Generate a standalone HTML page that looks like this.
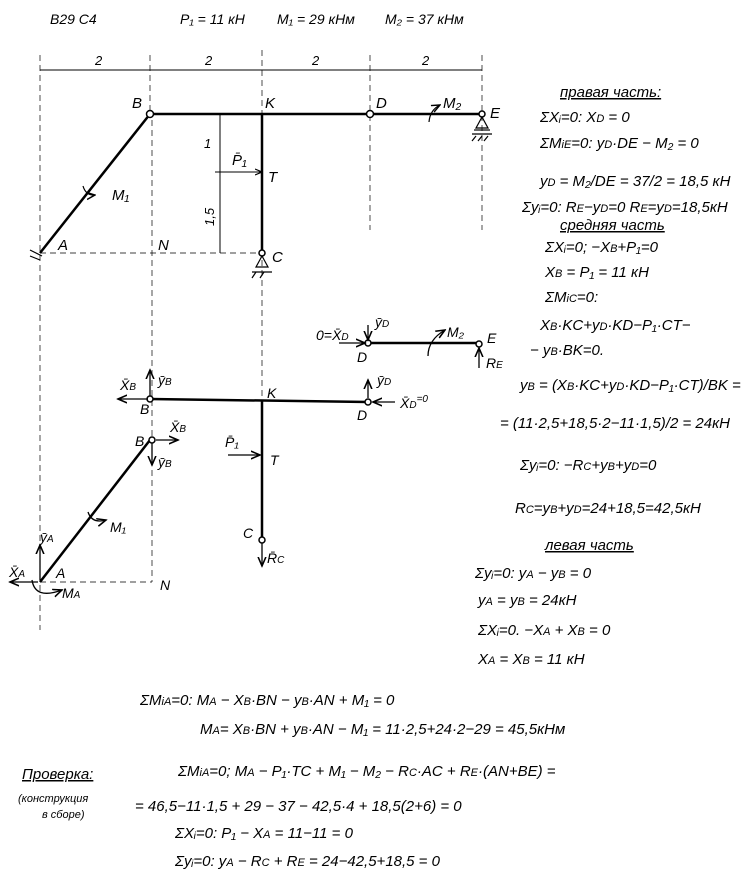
<!DOCTYPE html>
<html><head><meta charset="utf-8"><style>
body{margin:0;background:#fff;}
svg{display:block}
text{font-family:"Liberation Sans",sans-serif;font-style:italic;fill:#000;}
</style></head><body>
<svg width="750" height="891" viewBox="0 0 750 891" xmlns="http://www.w3.org/2000/svg">
<defs><marker id="ar" markerWidth="8" markerHeight="8" refX="7" refY="4" orient="auto"><path d="M0,1 L7,4 L0,7" fill="none" stroke="#000" stroke-width="1.2"/></marker></defs>
<g font-size="14">
<text x="50" y="24">B29 C4</text>
<text x="180" y="24">P₁ = 11 кН</text>
<text x="277" y="24">M₁ = 29 кНм</text>
<text x="385" y="24">M₂ = 37 кНм</text>
</g>
<!-- dashed verticals -->
<g stroke="#000" stroke-width="0.7" stroke-dasharray="6,4" fill="none">
<line x1="40" y1="55" x2="40" y2="630"/>
<line x1="150" y1="55" x2="150" y2="110"/>
<line x1="152" y1="120" x2="152" y2="582"/>
<line x1="262" y1="50" x2="262" y2="570"/>
<line x1="370" y1="55" x2="370" y2="230"/>
<line x1="482" y1="55" x2="482" y2="230"/>
<line x1="40" y1="253" x2="262" y2="253"/>
<line x1="40" y1="582" x2="152" y2="582"/>
</g>
<!-- dimension line -->
<g stroke="#000" stroke-width="1" fill="none">
<line x1="40" y1="70" x2="482" y2="70"/>
<line x1="220" y1="114" x2="220" y2="253"/>
<line x1="215" y1="172" x2="262" y2="172" marker-end="url(#ar)"/>
</g>
<g font-size="13"><text x="95" y="65">2</text><text x="205" y="65">2</text><text x="312" y="65">2</text><text x="422" y="65">2</text>
<text x="204" y="148">1</text><text x="204" y="224" transform="rotate(-90 210 220)">1,5</text></g>
<!-- upper structure -->
<g stroke="#000" stroke-width="2.5" fill="none">
<line x1="40" y1="253" x2="150" y2="114"/>
<line x1="150" y1="114" x2="482" y2="114"/>
<line x1="262" y1="114" x2="262" y2="253"/>
</g>
<g fill="#fff" stroke="#000" stroke-width="1.5">
<circle cx="150" cy="114" r="3.5"/><circle cx="370" cy="114" r="3.5"/><circle cx="482" cy="114" r="3"/><circle cx="262" cy="253" r="3"/>
</g>
<g stroke="#000" stroke-width="1.2" fill="none">
<path d="M476,128 L482,117 L488,128 Z"/><line x1="474" y1="130" x2="490" y2="130"/><line x1="476" y1="136" x2="472" y2="141"/><line x1="482" y1="136" x2="478" y2="141"/><line x1="488" y1="136" x2="484" y2="141"/><line x1="472" y1="134" x2="492" y2="134"/>
<path d="M256,267 L262,256 L268,267 Z"/><line x1="252" y1="272" x2="272" y2="272"/><line x1="256" y1="272" x2="252" y2="278"/><line x1="264" y1="272" x2="260" y2="278"/>
<line x1="30" y1="250" x2="42" y2="256"/><line x1="30" y1="256" x2="40" y2="260"/>
<path d="M83,186 Q86,196 95,195" marker-end="url(#ar)"/>
<path d="M429,122 Q430,110 440,105" marker-end="url(#ar)"/>
</g>
<g font-size="15">
<text x="132" y="108">B</text><text x="265" y="108">K</text><text x="376" y="108">D</text><text x="490" y="118">E</text>
<text x="268" y="182">T</text><text x="272" y="262">C</text><text x="58" y="250">A</text><text x="158" y="250">N</text>
<text x="112" y="200">M₁</text><text x="443" y="108">M₂</text><text x="232" y="165">P̄₁</text>
</g>
<!-- DE separate -->
<g stroke="#000" stroke-width="2.5"><line x1="368" y1="343" x2="479" y2="343"/><line x1="150" y1="399" x2="368" y2="402"/><line x1="262" y1="400" x2="262" y2="540"/><line x1="40" y1="582" x2="150" y2="440"/></g>
<g fill="#fff" stroke="#000" stroke-width="1.5"><circle cx="368" cy="343" r="3"/><circle cx="479" cy="344" r="3"/><circle cx="150" cy="399" r="3"/><circle cx="368" cy="402" r="3"/><circle cx="152" cy="440" r="3"/><circle cx="262" cy="540" r="3"/></g>
<g stroke="#000" stroke-width="1.3" fill="none">
<line x1="339" y1="343" x2="365" y2="343" marker-end="url(#ar)"/>
<line x1="368" y1="325" x2="368" y2="340" marker-end="url(#ar)"/>
<line x1="479" y1="368" x2="479" y2="348" marker-end="url(#ar)"/>
<path d="M428,356 Q428,340 445,330" marker-end="url(#ar)"/>
<line x1="150" y1="396" x2="150" y2="370" marker-end="url(#ar)"/>
<line x1="148" y1="399" x2="118" y2="399" marker-end="url(#ar)"/>
<line x1="368" y1="398" x2="368" y2="380" marker-end="url(#ar)"/>
<line x1="395" y1="402" x2="373" y2="402" marker-end="url(#ar)"/>
<line x1="156" y1="440" x2="178" y2="440" marker-end="url(#ar)"/>
<line x1="152" y1="443" x2="152" y2="465" marker-end="url(#ar)"/>
<line x1="228" y1="455" x2="260" y2="455" marker-end="url(#ar)"/>
<line x1="262" y1="543" x2="262" y2="566" marker-end="url(#ar)"/>
<line x1="40" y1="580" x2="40" y2="545" marker-end="url(#ar)"/>
<line x1="38" y1="582" x2="10" y2="582" marker-end="url(#ar)"/>
<path d="M32,580 Q35,600 62,590" marker-end="url(#ar)"/>
<path d="M88,512 Q92,524 106,520" marker-end="url(#ar)"/>
</g>
<g font-size="14">
<text x="316" y="340">0=X̄<tspan font-size="10">D</tspan></text><text x="375" y="327">ȳ<tspan font-size="10">D</tspan></text>
<text x="357" y="362">D</text><text x="447" y="337">M₂</text><text x="487" y="343">E</text><text x="486" y="368">R<tspan font-size="10">E</tspan></text>
<text x="120" y="390">X̄<tspan font-size="10">B</tspan></text><text x="158" y="385">ȳ<tspan font-size="10">B</tspan></text><text x="140" y="414">B</text><text x="267" y="398">K</text>
<text x="377" y="385">ȳ<tspan font-size="10">D</tspan></text><text x="400" y="408">X̄<tspan font-size="10">D</tspan><tspan dy="-6" font-size="10">=0</tspan></text><text x="357" y="420">D</text>
<text x="135" y="446">B</text><text x="170" y="432">X̄<tspan font-size="10">B</tspan></text><text x="158" y="467">ȳ<tspan font-size="10">B</tspan></text>
<text x="225" y="447">P̄₁</text><text x="270" y="465">T</text><text x="243" y="538">C</text><text x="267" y="563">R̄<tspan font-size="10">C</tspan></text>
<text x="110" y="532">M₁</text><text x="40" y="542">ȳ<tspan font-size="10">A</tspan></text><text x="56" y="578">A</text><text x="9" y="577">X̄<tspan font-size="10">A</tspan></text><text x="62" y="598">M<tspan font-size="10">A</tspan></text><text x="160" y="590">N</text>
</g>
<!-- right text -->
<g font-size="15">
<text x="560" y="97" text-decoration="underline">правая часть:</text>
<text x="540" y="122">ΣXᵢ=0:  X<tspan font-size="11">D</tspan> = 0</text>
<text x="540" y="148">ΣM<tspan font-size="11">iE</tspan>=0:  y<tspan font-size="11">D</tspan>·DE − M₂ = 0</text>
<text x="540" y="186">y<tspan font-size="11">D</tspan> = M₂/DE = 37/2 = 18,5 кН</text>
<text x="522" y="212">Σyᵢ=0: R<tspan font-size="11">E</tspan>−y<tspan font-size="11">D</tspan>=0  R<tspan font-size="11">E</tspan>=y<tspan font-size="11">D</tspan>=18,5кН</text>
<text x="560" y="230" text-decoration="underline">средняя часть</text>
<text x="545" y="252">ΣXᵢ=0;  −X<tspan font-size="11">B</tspan>+P₁=0</text>
<text x="545" y="277">X<tspan font-size="11">B</tspan> = P₁ = 11 кН</text>
<text x="545" y="302">ΣM<tspan font-size="11">iC</tspan>=0:</text>
<text x="540" y="330">X<tspan font-size="11">B</tspan>·KC+y<tspan font-size="11">D</tspan>·KD−P₁·CT−</text>
<text x="530" y="355">− y<tspan font-size="11">B</tspan>·BK=0.</text>
<text x="520" y="390">y<tspan font-size="11">B</tspan> = (X<tspan font-size="11">B</tspan>·KC+y<tspan font-size="11">D</tspan>·KD−P₁·CT)/BK =</text>
<text x="500" y="428">= (11·2,5+18,5·2−11·1,5)/2 = 24кН</text>
<text x="520" y="470">Σyᵢ=0: −R<tspan font-size="11">C</tspan>+y<tspan font-size="11">B</tspan>+y<tspan font-size="11">D</tspan>=0</text>
<text x="515" y="513">R<tspan font-size="11">C</tspan>=y<tspan font-size="11">B</tspan>+y<tspan font-size="11">D</tspan>=24+18,5=42,5кН</text>
<text x="545" y="550" text-decoration="underline">левая часть</text>
<text x="475" y="578">Σyᵢ=0:  y<tspan font-size="11">A</tspan> − y<tspan font-size="11">B</tspan> = 0</text>
<text x="478" y="605">y<tspan font-size="11">A</tspan> = y<tspan font-size="11">B</tspan> = 24кН</text>
<text x="478" y="635">ΣXᵢ=0.  −X<tspan font-size="11">A</tspan> + X<tspan font-size="11">B</tspan> = 0</text>
<text x="478" y="664">X<tspan font-size="11">A</tspan> = X<tspan font-size="11">B</tspan> = 11 кН</text>
<text x="140" y="705">ΣM<tspan font-size="11">iA</tspan>=0:   M<tspan font-size="11">A</tspan> − X<tspan font-size="11">B</tspan>·BN − y<tspan font-size="11">B</tspan>·AN + M₁ = 0</text>
<text x="200" y="734">M<tspan font-size="11">A</tspan>= X<tspan font-size="11">B</tspan>·BN + y<tspan font-size="11">B</tspan>·AN − M₁ = 11·2,5+24·2−29 = 45,5кНм</text>
<text x="22" y="779" text-decoration="underline">Проверка:</text>
<text x="18" y="802" font-size="11">(конструкция</text>
<text x="42" y="818" font-size="11">в сборе)</text>
<text x="178" y="776">ΣM<tspan font-size="11">iA</tspan>=0;   M<tspan font-size="11">A</tspan> − P₁·TC + M₁ − M₂ − R<tspan font-size="11">C</tspan>·AC + R<tspan font-size="11">E</tspan>·(AN+BE) =</text>
<text x="135" y="811">= 46,5−11·1,5 + 29 − 37 − 42,5·4 + 18,5(2+6) = 0</text>
<text x="175" y="838">ΣXᵢ=0:  P₁ − X<tspan font-size="11">A</tspan> = 11−11 = 0</text>
<text x="175" y="866">Σyᵢ=0:  y<tspan font-size="11">A</tspan> − R<tspan font-size="11">C</tspan> + R<tspan font-size="11">E</tspan> = 24−42,5+18,5 = 0</text>
</g>
</svg>
</body></html>
